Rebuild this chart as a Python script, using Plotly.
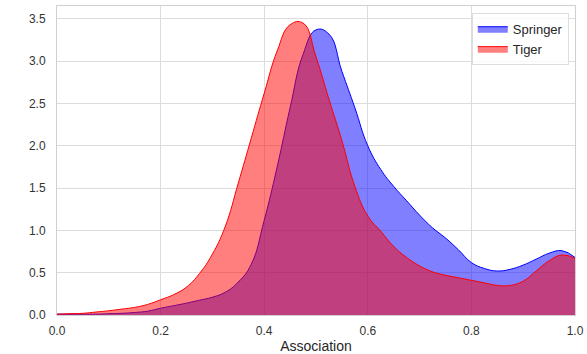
import plotly.graph_objects as go

x_grid = [0.000, 0.025, 0.050, 0.075, 0.100, 0.125, 0.150, 0.175, 0.200, 0.225,
          0.250, 0.275, 0.300, 0.325, 0.350, 0.375, 0.400, 0.425, 0.450, 0.475,
          0.500, 0.525, 0.550, 0.575, 0.600, 0.625, 0.650, 0.675, 0.700, 0.725,
          0.750, 0.775, 0.800, 0.825, 0.850, 0.875, 0.900, 0.925, 0.950, 0.975, 1.000]

springer_y = [0.01, 0.01, 0.01, 0.01, 0.015, 0.02, 0.03, 0.045, 0.08, 0.11,
              0.14, 0.175, 0.21, 0.27, 0.39, 0.60, 1.12, 1.75, 2.45, 3.08,
              3.37, 3.32, 2.88, 2.45, 2.00, 1.72, 1.52, 1.35, 1.18, 1.03,
              0.91, 0.77, 0.62, 0.55, 0.52, 0.54, 0.59, 0.66, 0.73, 0.76, 0.68]

tiger_y = [0.01, 0.015, 0.02, 0.035, 0.05, 0.07, 0.09, 0.125, 0.18, 0.24,
           0.33, 0.49, 0.72, 1.05, 1.56, 2.09, 2.62, 3.12, 3.43, 3.45,
           3.05, 2.55, 2.06, 1.52, 1.17, 0.99, 0.81, 0.68, 0.58, 0.51,
           0.47, 0.44, 0.41, 0.38, 0.35, 0.35, 0.40, 0.52, 0.64, 0.71, 0.67]

x_ticks = [0.0, 0.2, 0.4, 0.6, 0.8, 1.0]
y_ticks = [0.0, 0.5, 1.0, 1.5, 2.0, 2.5, 3.0, 3.5]

fig = go.Figure()
fig.add_trace(go.Scatter(
    x=x_grid, y=springer_y, name="Springer", mode="lines",
    line=dict(color="blue", width=1, shape="spline", smoothing=1.3),
    fill="tozeroy", fillcolor="rgba(0,0,255,0.5)"))
fig.add_trace(go.Scatter(
    x=x_grid, y=tiger_y, name="Tiger", mode="lines",
    line=dict(color="red", width=1, shape="spline", smoothing=1.3),
    fill="tozeroy", fillcolor="rgba(255,0,0,0.5)"))

fig.update_layout(
    width=587, height=354,
    margin=dict(l=57, r=12, t=6, b=39),
    paper_bgcolor="white", plot_bgcolor="white",
    font=dict(family="Liberation Sans, Arial, sans-serif", color="#262626", size=12),
    showlegend=True,
    legend=dict(x=0.988, y=0.978, xanchor="right", yanchor="top",
                bgcolor="rgba(255,255,255,0.8)", bordercolor="#dddddd", borderwidth=1,
                font=dict(size=13, color="#262626"), tracegroupgap=2),
)
fig.update_xaxes(
    range=[0, 1], tickvals=x_ticks, tickformat=".1f", automargin=False,
    showgrid=True, gridcolor="#dcdcdc", gridwidth=1, zeroline=False,
    showline=True, linecolor="#d0d0d0", linewidth=1, mirror=True,
    ticks="outside", ticklen=5, tickcolor="rgba(0,0,0,0)",
    tickfont=dict(size=12, color="#333333"),
    title=dict(text="Association", font=dict(size=14, color="#262626"), standoff=4))
fig.update_yaxes(
    range=[0, 3.652], tickvals=y_ticks, tickformat=".1f", automargin=False,
    showgrid=True, gridcolor="#dcdcdc", gridwidth=1, zeroline=False,
    showline=True, linecolor="#d0d0d0", linewidth=1, mirror=True,
    ticks="outside", ticklen=8, tickcolor="rgba(0,0,0,0)",
    tickfont=dict(size=12, color="#333333"))

fig.write_html("out.html", config={"displayModeBar": False},
               post_script="document.body.style.margin='0';")
